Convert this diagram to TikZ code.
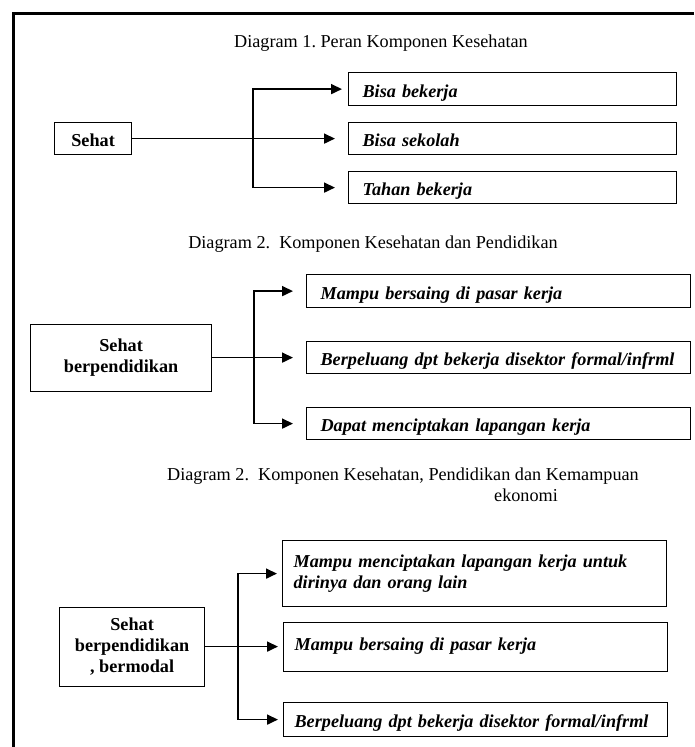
\documentclass[tikz,border=0pt]{standalone}
\usepackage{fontspec}
\setmainfont{Liberation Serif}
\usetikzlibrary{arrows.meta}
\frenchspacing
\def\teksdiagram{\fontsize{18.2}{21}\selectfont}
\tikzset{
	judul/.style={inner sep=0pt, font=\teksdiagram},
	sumber/.style={draw, line width=1.2pt, anchor=north west, inner sep=0pt, align=center, font=\teksdiagram\bfseries},
	hasil/.style={draw, line width=1.2pt, anchor=north west, inner ysep=0pt, inner xsep=14pt, align=left, font=\teksdiagram\bfseries\itshape},
	satubaris/.style={text height=16pt, text depth=0pt},
	panah/.style={line width=1.7pt, -{Triangle[length=11pt,width=10pt]}},
}

\begin{document}
\begin{tikzpicture}[x=1pt, y=-1pt]
		%%%%% START %%%%%
		\useasboundingbox (0,0) rectangle (694,747);
		
		\draw[line width=2.6pt] (694,13.5) -- (13.5,13.5) -- (13.5,747);
		
		% diagram 1
		\node[judul, anchor=base] (judul1) at (381,47) {Diagram 1. Peran Komponen Kesehatan};
		
		\node[sumber, satubaris, minimum width=77pt, minimum height=32pt] (sehat) at (54,122) {Sehat};
		\node[hasil, satubaris, text width=300pt, minimum height=33pt] (bekerja) at (348,72) {Bisa bekerja};
		\node[hasil, satubaris, text width=300pt, minimum height=32pt] (sekolah) at (348,122) {Bisa sekolah};
		\node[hasil, satubaris, text width=300pt, minimum height=32pt] (tahan) at (348,171) {Tahan bekerja};
		
		\coordinate (cabang1) at (253,138);
		\draw[panah, shorten >=13pt] (sehat) -- (sekolah);
		\draw[panah, shorten >=6pt] (cabang1) |- (bekerja);
		\draw[panah, shorten >=13pt] (cabang1) |- (tahan);
		
		% diagram 2
		\node[judul, anchor=base] (judul2) at (373,248) {Diagram 2.\ \ Komponen Kesehatan dan Pendidikan};
		
		\node[sumber, minimum width=181pt, minimum height=67pt] (sehat2) at (30,323.5) {Sehat\\berpendidikan};
		\node[hasil, satubaris, text width=356pt, minimum height=33pt] (bersaing) at (306,274) {Mampu bersaing di pasar kerja};
		\node[hasil, satubaris, text width=356pt, minimum height=32pt] (peluang) at (306,341) {Berpeluang dpt bekerja disektor formal/infrml};
		\node[hasil, satubaris, text width=356pt, minimum height=32pt] (cipta) at (306,407) {Dapat menciptakan lapangan kerja};
		
		\coordinate (cabang2) at (254,357);
		\draw[panah, shorten >=13pt] (sehat2) -- (peluang);
		\draw[panah, shorten >=13pt] (cabang2) |- (bersaing);
		\draw[panah, shorten >=13pt] (cabang2) |- (cipta);
		
		% diagram 3
		\node[judul, align=left, anchor=north west] (judul3) at (167,467.5) {Diagram 2.\ \ Komponen Kesehatan, Pendidikan dan Kemampuan\\\hspace*{327pt}ekonomi};
		
		\node[sumber, minimum width=145pt, minimum height=79pt] (sehat3) at (59,606.5) {Sehat\\berpendidikan\\, bermodal};
		\node[hasil, inner xsep=11pt, text width=362pt, minimum height=66pt] (lapangan) at (282,540) {Mampu menciptakan lapangan kerja untuk\\dirinya dan orang lain};
		\node[hasil, inner xsep=11pt, text width=362pt, minimum height=49pt] (bersaing3) at (283,621.5) {Mampu bersaing di pasar kerja};
		\node[hasil, satubaris, inner xsep=11pt, text width=362pt, minimum height=34pt] (peluang3) at (283,702) {Berpeluang dpt bekerja disektor formal/infrml};
		
		\coordinate (cabang3) at (238,646);
		\draw[panah, shorten >=5pt] (sehat3) -- (bersaing3);
		\draw[panah, shorten >=5pt] (cabang3) |- (lapangan);
		\draw[panah, shorten >=5pt] (cabang3) |- (peluang3);
		
		%%%%% END %%%%%
\end{tikzpicture}
\end{document}
